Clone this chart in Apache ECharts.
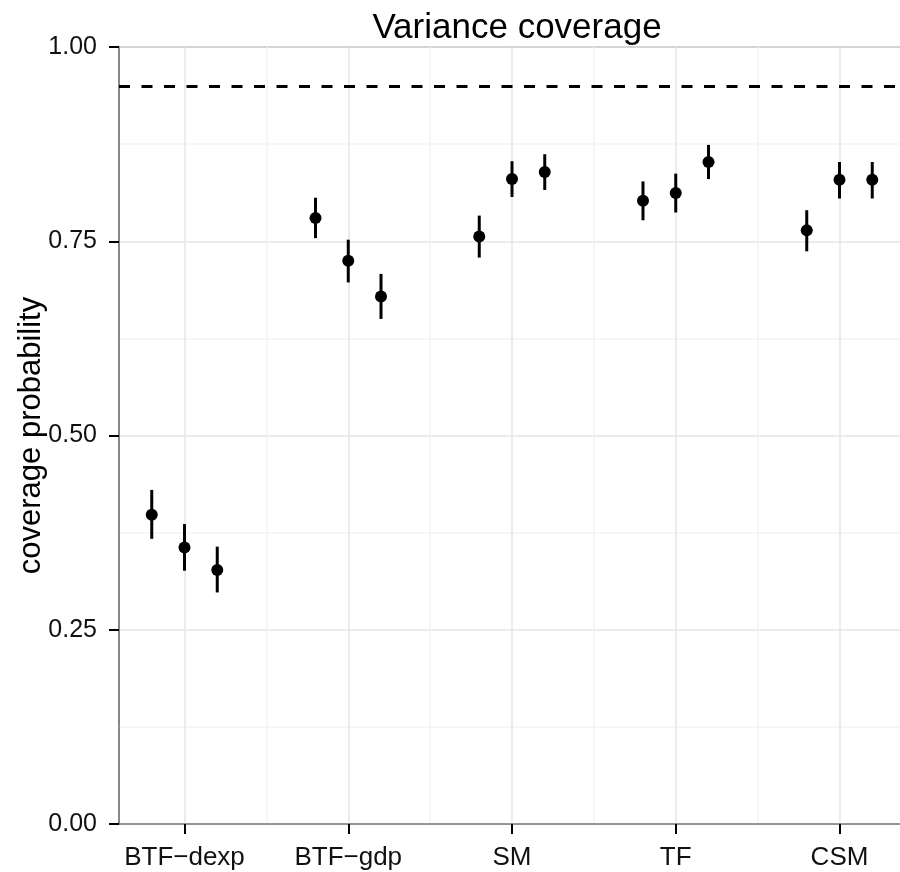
<!DOCTYPE html>
<html>
<head>
<meta charset="utf-8">
<script src="https://cdn.jsdelivr.net/npm/echarts@6/dist/echarts.min.js"></script>
<style>
html,body{margin:0;padding:0;background:#fff;}
#c{width:900px;height:872px;}
</style>
</head>
<body>
<div id="c"></div>
<script>
// ---- data ----
const categories = ['BTF\u2212dexp', 'BTF\u2212gdp', 'SM', 'TF', 'CSM'];
const yTicks = [0, 0.25, 0.5, 0.75, 1];
const reference = 0.95;
const dodge = [-0.2, 0, 0.2];
// three dodged estimates per category
const est1 = [0.398, 0.780, 0.756, 0.802, 0.764];
const lo1  = [0.367, 0.754, 0.729, 0.777, 0.737];
const hi1  = [0.430, 0.806, 0.783, 0.827, 0.790];
const est2 = [0.356, 0.725, 0.830, 0.812, 0.829];
const lo2  = [0.326, 0.697, 0.807, 0.787, 0.805];
const hi2  = [0.386, 0.752, 0.853, 0.837, 0.852];
const est3 = [0.327, 0.679, 0.839, 0.852, 0.829];
const lo3  = [0.298, 0.650, 0.816, 0.830, 0.805];
const hi3  = [0.357, 0.708, 0.862, 0.874, 0.852];

const groups = [[est1, lo1, hi1], [est2, lo2, hi2], [est3, lo3, hi3]];
const FONT = '"Liberation Sans", Arial, Helvetica, sans-serif';

const pointData = [];
const barData = [];
groups.forEach((g, k) => {
  categories.forEach((c, i) => {
    const x = i + 1 + dodge[k];
    pointData.push([x, g[0][i]]);
    barData.push([x, g[1][i], g[2][i]]);
  });
});

const majorX = categories.map((c, i) => i + 1);
const minorX = categories.slice(1).map((c, i) => i + 1.5);

const chart = echarts.init(document.getElementById('c'), null, {renderer: 'canvas'});
chart.setOption({
  animation: false,
  backgroundColor: '#ffffff',
  title: {
    text: 'Variance coverage',
    left: 512, top: 6, textAlign: 'center',
    textStyle: {fontFamily: FONT, fontSize: 35, fontWeight: 'normal', color: '#000'}
  },
  grid: {
    left: 119, top: 47, width: 786, height: 777,
    outerBoundsMode: 'none', containLabel: false,
    show: true, borderColor: '#7f7f7f', borderWidth: 1.5, backgroundColor: 'transparent'
  },
  xAxis: {
    type: 'value', min: 0.6, max: 5.4,
    axisLine: {show: true, onZero: false, lineStyle: {color: '#7f7f7f', width: 1.5}},
    axisTick: {show: true, length: 10, customValues: majorX, lineStyle: {color: '#000', width: 2}},
    axisLabel: {
      customValues: majorX, margin: 21, fontFamily: FONT, fontSize: 26, color: '#111',
      formatter: v => categories[Math.round(v) - 1] || ''
    },
    splitLine: {show: false}
  },
  yAxis: {
    type: 'value', min: 0, max: 1, interval: 0.25,
    name: 'coverage probability', nameLocation: 'middle', nameGap: 72,
    nameMoveOverlap: false,
    nameTextStyle: {fontFamily: FONT, fontSize: 31, color: '#000'},
    axisLine: {show: true, lineStyle: {color: '#7f7f7f', width: 1.5}},
    axisTick: {show: true, length: 10, lineStyle: {color: '#000', width: 2}},
    axisLabel: {
      margin: 22, fontFamily: FONT, fontSize: 25, color: '#111',
      formatter: v => v.toFixed(2)
    },
    splitLine: {show: true, lineStyle: {color: '#e6e6e6', width: 1.5}},
    minorTick: {show: false, splitNumber: 2},
    minorSplitLine: {show: true, lineStyle: {color: '#f3f3f3', width: 1.5}}
  },
  series: [
    {
      type: 'line', data: [], silent: true, z: 0,
      markLine: {
        z: 0, silent: true, symbol: 'none', animation: false, label: {show: false},
        data: majorX.map(x => ({xAxis: x, lineStyle: {color: '#e6e6e6', width: 1.5, type: 'solid'}}))
          .concat(minorX.map(x => ({xAxis: x, lineStyle: {color: '#f3f3f3', width: 1.5, type: 'solid'}})))
      }
    },
    {
      type: 'line', data: [], silent: true, z: 3,
      markLine: {
        z: 3, silent: true, symbol: 'none', animation: false, label: {show: false},
        data: [{yAxis: reference}],
        lineStyle: {color: '#000', width: 3, type: [11, 11.5], cap: 'butt'}
      }
    },
    {
      type: 'custom', z: 10,
      renderItem: (params, api) => {
        const p1 = api.coord([api.value(0), api.value(1)]);
        const p2 = api.coord([api.value(0), api.value(2)]);
        return {
          type: 'line',
          shape: {x1: p1[0], y1: p1[1], x2: p2[0], y2: p2[1]},
          style: {stroke: '#000', lineWidth: 3}
        };
      },
      encode: {x: 0, y: [1, 2]},
      data: barData
    },
    {
      type: 'scatter', z: 11, symbol: 'circle', symbolSize: 12,
      itemStyle: {color: '#000', opacity: 1},
      data: pointData
    }
  ]
});
</script>
</body>
</html>
